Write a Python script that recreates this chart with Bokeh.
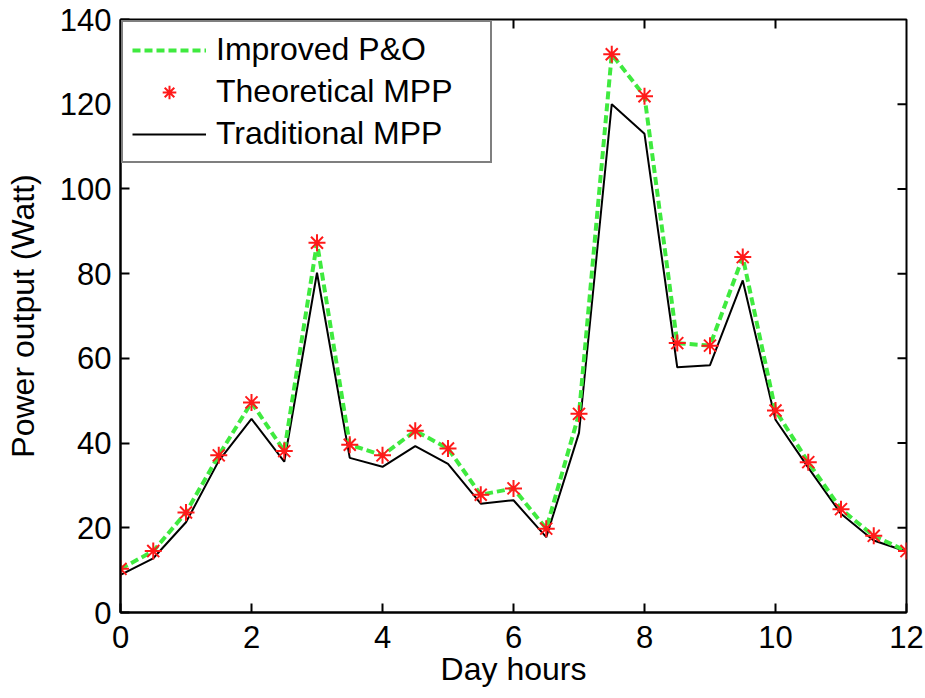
from bokeh.plotting import figure
from bokeh.models import Range1d, Legend, LegendItem, FixedTicker
from bokeh.embed import file_html
from bokeh.resources import INLINE

# ---- data ----
hours = [0, 0.5, 1, 1.5, 2, 2.5, 3, 3.5, 4, 4.5, 5, 5.5, 6, 6.5, 7, 7.5, 8, 8.5, 9, 9.5, 10, 10.5, 11, 11.5, 12]
improved_po = [10.3, 14.5, 23.6, 37.1, 49.6, 38.1, 87.3, 39.6, 37.1, 42.9, 38.7, 27.8, 29.3, 19.8, 46.9,
               131.8, 121.9, 63.6, 63.0, 83.9, 47.7, 35.5, 24.4, 18.1, 14.5]
theoretical_mpp = [10.3, 14.5, 23.6, 37.1, 49.6, 38.1, 87.3, 39.6, 37.1, 42.9, 38.7, 27.8, 29.3, 19.8, 46.9,
                   131.8, 121.9, 63.6, 63.0, 83.9, 47.7, 35.5, 24.4, 18.1, 14.5]
traditional_mpp = [8.9, 12.8, 21.3, 35.8, 45.7, 35.6, 80.2, 36.5, 34.4, 39.3, 35.1, 25.7, 26.5, 17.8, 42.4,
                   120.0, 113.0, 57.9, 58.4, 78.4, 45.5, 34.2, 23.3, 17.0, 14.4]
x_ticks = [0, 2, 4, 6, 8, 10, 12]
y_ticks = [0, 20, 40, 60, 80, 100, 120, 140]
X_MIN, X_MAX = 0, 12
Y_MIN, Y_MAX = 0, 140

FONT = "Liberation Sans"
TICK_FS = "31px"
LABEL_FS = "32px"
FRAME_W, FRAME_H = 786, 593
TICK_PX = 9

p = figure(frame_width=FRAME_W, frame_height=FRAME_H, output_backend="svg", toolbar_location=None,
           x_range=Range1d(X_MIN, X_MAX), y_range=Range1d(Y_MIN, Y_MAX),
           min_border_left=120, min_border_right=19, min_border_top=19, min_border_bottom=80)
p.grid.visible = False
p.outline_line_color = "black"
p.outline_line_width = 2
p.background_fill_color = "white"
p.border_fill_color = "white"

xa = p.xaxis[0]
ya = p.yaxis[0]
for ax, ticks in ((xa, x_ticks), (ya, y_ticks)):
    ax.ticker = FixedTicker(ticks=ticks)
    ax.axis_line_color = "black"
    ax.axis_line_width = 2
    ax.major_tick_line_color = "black"
    ax.major_tick_line_width = 2
    ax.major_tick_in = TICK_PX
    ax.major_tick_out = 0
    ax.minor_tick_line_color = None
    ax.major_label_text_font = FONT
    ax.major_label_text_font_size = TICK_FS
    ax.major_label_text_color = "black"
    ax.axis_label_text_font = FONT
    ax.axis_label_text_font_size = LABEL_FS
    ax.axis_label_text_font_style = "normal"
    ax.axis_label_text_color = "black"
xa.major_label_standoff = 13
ya.major_label_standoff = 9
xa.axis_label = "Day hours"
ya.axis_label = "Power output (Watt)"
xa.axis_label_standoff = 0
ya.axis_label_standoff = 16

# inward ticks on the top and right edges of the box
tick_len_y = TICK_PX * (Y_MAX - Y_MIN) / FRAME_H
tick_len_x = TICK_PX * (X_MAX - X_MIN) / FRAME_W
top_ticks = [t for t in x_ticks if X_MIN < t < X_MAX]
right_ticks = [t for t in y_ticks if Y_MIN < t < Y_MAX]
p.segment(x0=top_ticks, y0=[Y_MAX] * len(top_ticks), x1=top_ticks,
          y1=[Y_MAX - tick_len_y] * len(top_ticks), line_color="black", line_width=2)
p.segment(x0=[X_MAX] * len(right_ticks), y0=right_ticks, x1=[X_MAX - tick_len_x] * len(right_ticks),
          y1=right_ticks, line_color="black", line_width=2)

r_trad = p.line(hours, traditional_mpp, line_color="black", line_width=2)
r_imp = p.line(hours, improved_po, line_color="#3fea3f", line_width=4, line_dash="8 4")
r_theo = p.scatter(hours, theoretical_mpp, marker="asterisk", size=17,
                   line_color="#ff1a1a", line_width=2)

legend = Legend(items=[
    LegendItem(label="Improved P&O", renderers=[r_imp]),
    LegendItem(label="Theoretical MPP", renderers=[r_theo]),
    LegendItem(label="Traditional MPP", renderers=[r_trad]),
], location="top_left")
legend.margin = 1
legend.padding = 9
legend.spacing = 5
legend.glyph_width = 74
legend.glyph_height = 34
legend.label_height = 34
legend.label_width = 265
legend.label_standoff = 10
legend.label_text_font = FONT
legend.label_text_font_size = LABEL_FS
legend.label_text_color = "black"
legend.border_line_color = "black"
legend.border_line_width = 2
legend.background_fill_color = "white"
legend.background_fill_alpha = 1.0
p.add_layout(legend)

open("out.html", "w").write(file_html(p, INLINE))
